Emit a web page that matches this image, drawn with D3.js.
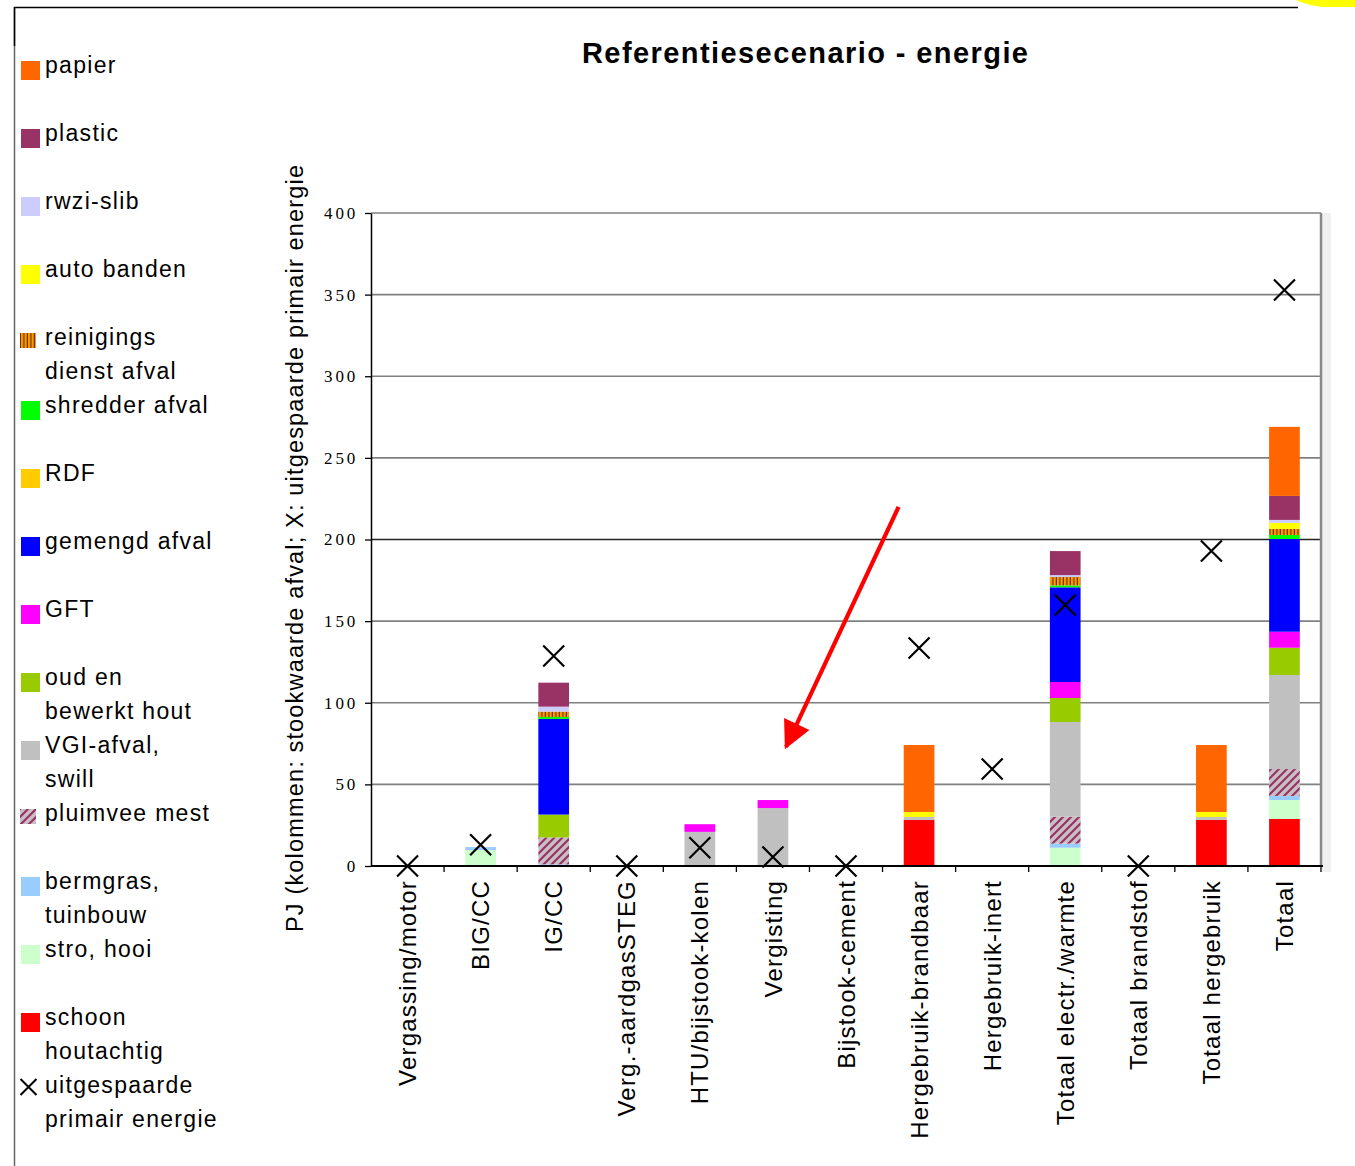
<!DOCTYPE html>
<html>
<head>
<meta charset="utf-8">
<script src="https://cdn.jsdelivr.net/npm/d3@7"></script>
<style>
  html, body { margin: 0; padding: 0; background: #fff; }
  svg { display: block; }
</style>
</head>
<body>
<svg id="chart" width="1355" height="1166"></svg>
<script>
// Categories along the x axis
const categories = [
  "Vergassing/motor", "BIG/CC", "IG/CC", "Verg.-aardgasSTEG", "HTU/bijstook-kolen",
  "Vergisting", "Bijstook-cement", "Hergebruik-brandbaar", "Hergebruik-inert",
  "Totaal electr./warmte", "Totaal brandstof", "Totaal hergebruik", "Totaal"
];

// Stacked series, bottom to top (PJ stookwaarde)
const schoonHoutachtig = [0, 0, 0, 0, 0, 0, 0, 28.2, 0, 0, 0, 28.2, 28.8];
const stroHooi         = [0, 9.8, 0, 0, 0, 0, 0, 0, 0, 11.2, 0, 0, 11.6];
const bermgras         = [0, 1.8, 1.0, 0, 0, 0, 0, 0, 0, 2.5, 0, 0, 2.5];
const pluimveeMest     = [0, 0, 16.5, 0, 0, 0, 0, 0, 0, 16.5, 0, 0, 16.5];
const vgiAfval         = [0, 0, 0, 0, 20.9, 35.5, 0, 1.8, 0, 58.0, 0, 1.8, 57.6];
const oudHout          = [0, 0, 14.0, 0, 0, 0, 0, 0, 0, 14.7, 0, 0, 16.7];
const gft              = [0, 0, 0, 0, 4.7, 4.9, 0, 0, 0, 9.8, 0, 0, 9.8];
const gemengdAfval     = [0, 0, 58.6, 0, 0, 0, 0, 0, 0, 58.0, 0, 0, 56.8];
const rdf              = [0, 0, 0, 0, 0, 0, 0, 0, 0, 0, 0, 0, 0];
const shredderAfval    = [0, 0, 1.2, 0, 0, 0, 0, 0, 0, 1.2, 0, 0, 2.5];
const reinigingsAfval  = [0, 0, 3.3, 0, 0, 0, 0, 0, 0, 5.1, 0, 0, 3.7];
const autoBanden       = [0, 0, 0, 0, 0, 0, 0, 3.1, 0, 0, 0, 3.1, 3.7];
const rwziSlib         = [0, 0, 3.0, 0, 0, 0, 0, 0, 0, 1.2, 0, 0, 1.8];
const plastic          = [0, 0, 14.7, 0, 0, 0, 0, 0, 0, 14.7, 0, 0, 14.7];
const papier           = [0, 0, 0, 0, 0, 0, 0, 41.0, 0, 0, 0, 41.0, 42.3];

// Uitgespaarde primaire energie (X markers)
const uitgespaard = [0, 13, 128.6, 0, 11.2, 5.5, 0, 133.5, 59.4, 159.9, 0, 193, 352.8];

// Y axis ticks
const yTicks = [0, 50, 100, 150, 200, 250, 300, 350, 400];

// Series definitions (stack order bottom to top)
const series = [
  { key: "schoon",     values: schoonHoutachtig, fill: "#FF0000",        label: ["schoon", "houtachtig"] },
  { key: "stro",       values: stroHooi,         fill: "#CCFFCC",        label: ["stro, hooi"] },
  { key: "bermgras",   values: bermgras,         fill: "#99CCFF",        label: ["bermgras,", "tuinbouw"] },
  { key: "pluimvee",   values: pluimveeMest,     fill: "url(#hatchPluimvee)", label: ["pluimvee mest"], pattern: true },
  { key: "vgi",        values: vgiAfval,         fill: "#C0C0C0",        label: ["VGI-afval,", "swill"] },
  { key: "oudhout",    values: oudHout,          fill: "#99CC00",        label: ["oud en", "bewerkt hout"] },
  { key: "gft",        values: gft,              fill: "#FF00FF",        label: ["GFT"] },
  { key: "gemengd",    values: gemengdAfval,     fill: "#0000FF",        label: ["gemengd afval"] },
  { key: "rdf",        values: rdf,              fill: "#FFCC00",        label: ["RDF"] },
  { key: "shredder",   values: shredderAfval,    fill: "#00FF00",        label: ["shredder afval"] },
  { key: "reinigings", values: reinigingsAfval,  fill: "url(#stripeReinigings)", label: ["reinigings", "dienst afval"], pattern: true },
  { key: "banden",     values: autoBanden,       fill: "#FFFF00",        label: ["auto banden"] },
  { key: "rwzi",       values: rwziSlib,         fill: "#CCCCFF",        label: ["rwzi-slib"] },
  { key: "plastic",    values: plastic,          fill: "#993366",        label: ["plastic"] },
  { key: "papier",     values: papier,           fill: "#FF6600",        label: ["papier"] }
];

const svg = d3.select("#chart");
const defs = svg.append("defs");

// Vertical orange/brown stripes
const pr = defs.append("pattern").attr("id", "stripeReinigings")
  .attr("patternUnits", "userSpaceOnUse").attr("width", 3.5).attr("height", 8);
pr.append("rect").attr("width", 3.5).attr("height", 8).attr("fill", "#FF9900");
pr.append("rect").attr("x", 2.3).attr("width", 1.2).attr("height", 8).attr("fill", "#663300");

// Diagonal maroon hatch on grey
const ph = defs.append("pattern").attr("id", "hatchPluimvee")
  .attr("patternUnits", "userSpaceOnUse").attr("width", 8).attr("height", 8);
ph.append("rect").attr("width", 8).attr("height", 8).attr("fill", "#C8C0C4");
ph.append("path").attr("d", "M-2,2 L2,-2 M0,8 L8,0 M6,10 L10,6")
  .attr("stroke", "#993366").attr("stroke-width", 2.2);

// Arrowhead marker
defs.append("marker").attr("id", "arrowHead")
  .attr("viewBox", "0 0 10 10").attr("refX", 9).attr("refY", 5)
  .attr("markerUnits", "userSpaceOnUse")
  .attr("markerWidth", 31).attr("markerHeight", 28).attr("orient", "auto")
  .append("path").attr("d", "M0,0 L10,5 L0,10 Z").attr("fill", "#FF0000");

// Page frame
svg.append("line").attr("x1", 14).attr("x2", 1298).attr("y1", 7.5).attr("y2", 7.5)
  .attr("stroke", "#000").attr("stroke-width", 1.5);
svg.append("line").attr("x1", 14.5).attr("x2", 14.5).attr("y1", 7).attr("y2", 1166)
  .attr("stroke", "#666").attr("stroke-width", 1.5);
svg.append("line").attr("x1", 14.5).attr("x2", 14.5).attr("y1", 7).attr("y2", 46)
  .attr("stroke", "#000").attr("stroke-width", 1.5);
svg.append("path").attr("d", "M1296,0 L1355,0 L1355,7 L1322,7 Q1306,5 1296,0 Z")
  .attr("fill", "#FFFF00");

// Scales
const plot = { left: 371, right: 1321, top: 213, bottom: 866 };
const x = d3.scaleBand().domain(categories)
  .range([plot.left, plot.right]).paddingInner(0.58).paddingOuter(0.29);
const y = d3.scaleLinear().domain([0, 400]).range([plot.bottom, plot.top]);
const step = x.step();
const catPos = f => plot.left + step * (f + 0.5);

// Plot-area right shading
svg.append("rect").attr("x", plot.right + 1).attr("y", plot.top).attr("width", 9)
  .attr("height", plot.bottom - plot.top + 6).attr("fill", "#F1F1F1");

// Gridlines
svg.append("g").selectAll("line").data(yTicks.filter(d => d > 0)).join("line")
  .attr("x1", plot.left).attr("x2", plot.right)
  .attr("y1", d => y(d)).attr("y2", d => y(d))
  .attr("stroke", d => d === 200 ? "#222" : "#808080")
  .attr("stroke-width", 1.6);

svg.append("line").attr("x1", plot.right).attr("x2", plot.right)
  .attr("y1", plot.top).attr("y2", plot.bottom)
  .attr("stroke", "#8a8a8a").attr("stroke-width", 2.5);

// Stacked bars
const table = categories.map((c, i) => {
  const row = { category: c };
  series.forEach(s => { row[s.key] = s.values[i]; });
  return row;
});
const stacked = d3.stack().keys(series.map(s => s.key))(table);

svg.append("g").selectAll("g").data(stacked).join("g")
  .attr("fill", (d, i) => series[i].fill)
  .selectAll("rect").data(d => d.filter(p => p[1] - p[0] > 0)).join("rect")
  .attr("x", d => x(d.data.category))
  .attr("width", x.bandwidth())
  .attr("y", d => y(d[1]))
  .attr("height", d => y(d[0]) - y(d[1]));

// Y axis
const yAxis = svg.append("g").attr("transform", `translate(${plot.left},0)`)
  .call(d3.axisLeft(y).tickValues(yTicks).tickSize(6).tickPadding(10).tickSizeOuter(0));
yAxis.select(".domain").attr("stroke", "#000").attr("stroke-width", 1.5);
yAxis.selectAll(".tick line").attr("stroke", "#000").attr("stroke-width", 1.3);
yAxis.selectAll(".tick text")
  .attr("font-family", "'Liberation Serif', 'DejaVu Serif', serif")
  .attr("font-size", 17).attr("letter-spacing", 2.8).attr("fill", "#000")
  .attr("x", -13);

// X axis line and category boundary ticks
svg.append("line").attr("x1", plot.left).attr("x2", plot.right + 2)
  .attr("y1", plot.bottom).attr("y2", plot.bottom)
  .attr("stroke", "#000").attr("stroke-width", 2);
svg.append("g").selectAll("line").data(d3.range(1, categories.length + 1)).join("line")
  .attr("x1", k => plot.left + step * k).attr("x2", k => plot.left + step * k)
  .attr("y1", plot.bottom).attr("y2", plot.bottom + 6)
  .attr("stroke", "#000").attr("stroke-width", 1.3);

// Category labels (rotated)
svg.append("g").selectAll("text").data(categories).join("text")
  .attr("transform", d => `translate(${x(d) + x.bandwidth() / 2},880) rotate(-90)`)
  .attr("text-anchor", "end").attr("dy", "0.36em")
  .attr("font-family", "'Liberation Sans', Arial, sans-serif")
  .attr("font-size", 24).attr("letter-spacing", 1.2).attr("fill", "#000")
  .text(d => d);

// X markers: uitgespaarde primaire energie
const xMark = "M-10.5,-10.5L10.5,10.5M-10.5,10.5L10.5,-10.5";
svg.append("g").selectAll("path").data(uitgespaard).join("path")
  .attr("transform", (d, i) => `translate(${x(categories[i]) + x.bandwidth() / 2},${y(d)})`)
  .attr("d", xMark).attr("stroke", "#000").attr("stroke-width", 2.2).attr("fill", "none");

// Title
svg.append("text").attr("x", 582).attr("y", 63)
  .attr("font-family", "'Liberation Sans', Arial, sans-serif")
  .attr("font-size", 29).attr("font-weight", "bold").attr("fill", "#000")
  .attr("textLength", 446).attr("lengthAdjust", "spacing")
  .text("Referentiesecenario - energie");

// Y axis title
svg.append("text").attr("transform", "translate(295,932) rotate(-90)")
  .attr("dy", "0.36em")
  .attr("font-family", "'Liberation Sans', Arial, sans-serif")
  .attr("font-size", 23.5).attr("fill", "#000")
  .attr("textLength", 767).attr("lengthAdjust", "spacing")
  .text("PJ (kolommen: stookwaarde afval; X: uitgespaarde primair energie");

// Red annotation arrow (in category/value space)
const arrowFrom = [6.72, 220];
const arrowTo = [5.18, 73];
svg.append("line")
  .attr("x1", catPos(arrowFrom[0])).attr("y1", y(arrowFrom[1]))
  .attr("x2", catPos(arrowTo[0])).attr("y2", y(arrowTo[1]))
  .attr("stroke", "#FF0000").attr("stroke-width", 4.2)
  .attr("marker-end", "url(#arrowHead)");

// Legend (top to bottom = reverse stack order), then the X marker entry
const legendItems = series.slice().reverse().map(s => ({ fill: s.fill, label: s.label, pattern: !!s.pattern, marker: false }));
legendItems.push({ label: ["uitgespaarde", "primair energie"], marker: true });

const legend = svg.append("g");
const lg = legend.selectAll("g").data(legendItems).join("g")
  .attr("transform", (d, i) => `translate(0,${73 + 68 * i})`);
lg.each(function(d) {
  const g = d3.select(this);
  if (d.marker) {
    g.append("path").attr("transform", "translate(28.5,-6)")
      .attr("d", "M-8,-8L8,8M-8,8L8,-8").attr("stroke", "#000").attr("stroke-width", 2).attr("fill", "none");
  } else if (d.pattern) {
    g.append("rect").attr("x", 20).attr("y", -12).attr("width", 16).attr("height", 15).attr("fill", d.fill);
  } else {
    g.append("rect").attr("x", 21).attr("y", -12).attr("width", 19).attr("height", 19).attr("fill", d.fill);
  }
  const t = g.append("text").attr("x", 45).attr("y", 0)
    .attr("font-family", "'Liberation Sans', Arial, sans-serif")
    .attr("font-size", 23).attr("letter-spacing", 1.3).attr("fill", "#000");
  d.label.forEach((line, j) => {
    t.append("tspan").attr("x", 45).attr("dy", j === 0 ? 0 : 34).text(line);
  });
});
</script>
</body>
</html>
